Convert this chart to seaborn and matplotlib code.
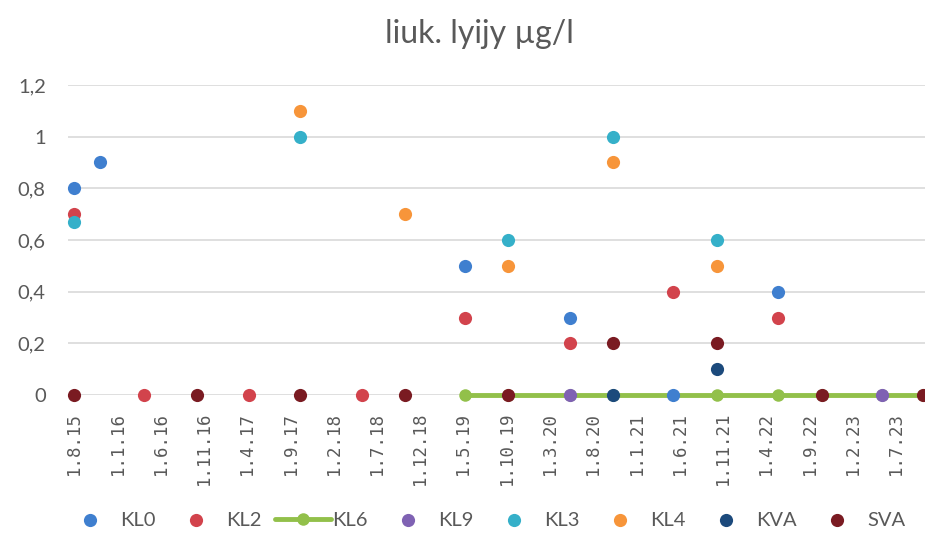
import matplotlib
matplotlib.use("Agg")
import matplotlib.pyplot as plt
from matplotlib.legend_handler import HandlerLine2D
import seaborn as sns
import pandas as pd

# sample dates / values per monitoring point
KL0_DATES = ["2015-08-01", "2015-11-01", "2019-05-09", "2020-05-12", "2021-05-08", "2022-05-12"]
KL0_VALS = [0.8, 0.9, 0.5, 0.3, 0.0, 0.4]

KL2_DATES = ["2015-08-01", "2016-04-03", "2017-04-07", "2018-05-09", "2019-05-09",
             "2020-05-12", "2021-05-08", "2022-05-12"]
KL2_VALS = [0.7, 0.0, 0.0, 0.0, 0.3, 0.2, 0.4, 0.3]

KL6_DATES = ["2019-05-09", "2019-10-07", "2020-05-12", "2020-10-10", "2021-10-09",
             "2022-05-12", "2022-10-14", "2023-05-13", "2023-10-04"]
KL6_VALS = [0, 0, 0, 0, 0, 0, 0, 0, 0]

KL9_DATES = ["2020-05-12", "2023-05-13"]
KL9_VALS = [0.0, 0.0]

KL3_DATES = ["2015-08-01", "2017-10-03", "2019-10-07", "2020-10-10", "2021-10-09"]
KL3_VALS = [0.67, 1.0, 0.6, 1.0, 0.6]

KL4_DATES = ["2017-10-03", "2018-10-08", "2019-10-07", "2020-10-10", "2021-10-09"]
KL4_VALS = [1.1, 0.7, 0.5, 0.9, 0.5]

KVA_DATES = ["2020-10-10", "2021-10-09"]
KVA_VALS = [0.0, 0.1]

SVA_DATES = ["2015-08-01", "2016-10-06", "2017-10-03", "2018-10-08", "2019-10-07",
             "2020-10-10", "2021-10-09", "2022-10-14", "2023-10-04"]
SVA_VALS = [0, 0, 0, 0, 0, 0.2, 0.2, 0, 0]

TICK_LABELS = ["1.8.15", "1.1.16", "1.6.16", "1.11.16", "1.4.17", "1.9.17", "1.2.18",
               "1.7.18", "1.12.18", "1.5.19", "1.10.19", "1.3.20", "1.8.20", "1.1.21",
               "1.6.21", "1.11.21", "1.4.22", "1.9.22", "1.2.23", "1.7.23"]
Y_TICKS = [0, 0.2, 0.4, 0.6, 0.8, 1.0, 1.2]

COLORS = {"KL0": "#3f7fcf", "KL2": "#d2434c", "KL6": "#92c04a", "KL9": "#7f62b3",
          "KL3": "#35b0c9", "KL4": "#f7953a", "KVA": "#1c4a7c", "SVA": "#7a1b22"}

series = {"KL0": (KL0_DATES, KL0_VALS), "KL2": (KL2_DATES, KL2_VALS),
          "KL6": (KL6_DATES, KL6_VALS), "KL9": (KL9_DATES, KL9_VALS),
          "KL3": (KL3_DATES, KL3_VALS), "KL4": (KL4_DATES, KL4_VALS),
          "KVA": (KVA_DATES, KVA_VALS), "SVA": (SVA_DATES, SVA_VALS)}


class WideLine(HandlerLine2D):
    # Excel draws the line-series legend key longer than the marker-only ones
    def create_artists(self, legend, orig_handle, xdescent, ydescent, width, height,
                       fontsize, trans):
        left, right = 0.6 * fontsize, 0.7 * fontsize
        return super().create_artists(legend, orig_handle, xdescent + left, ydescent,
                                      width + left + right, height, fontsize, trans)


sns.set_theme(style="whitegrid")
plt.rcParams["font.family"] = ["Lato", "DejaVu Sans"]
GREY = "#595959"

fig = plt.figure(figsize=(9.25, 5.35), dpi=100)
ax = fig.add_axes([68 / 925, 1 - 395 / 535, 857 / 925, 310 / 535])

for i, (name, (dates, vals)) in enumerate(series.items()):
    df = pd.DataFrame({"date": pd.to_datetime(dates), "value": vals})
    if name == "KL6":
        sns.lineplot(data=df, x="date", y="value", ax=ax, color=COLORS[name], lw=3.5,
                     marker="o", markersize=9, markeredgewidth=0, label=name,
                     zorder=2, clip_on=False)
    else:
        sns.scatterplot(data=df, x="date", y="value", ax=ax, color=COLORS[name], s=90,
                        linewidth=0, label=name, zorder=3 + i, clip_on=False)

ticks = [pd.to_datetime(t, format="%d.%m.%y") for t in TICK_LABELS]
ax.set_xticks(ticks)
ax.set_xticklabels(TICK_LABELS, rotation=90, fontsize=12.5, color=GREY,
                   family="DejaVu Sans Mono")
ax.set_xlim(pd.Timestamp("2015-07-11"), pd.Timestamp("2023-10-12"))
ax.set_ylim(0, 1.2)
ax.set_yticks(Y_TICKS)
ax.set_yticklabels([f"{v:g}".replace(".", ",") for v in Y_TICKS], fontsize=14.5, color=GREY)
ax.set_xlabel("")
ax.set_ylabel("")
ax.grid(axis="x", visible=False)
ax.grid(axis="y", color="#d9d9d9", lw=1.2)
ax.tick_params(axis="x", length=0, pad=12)
ax.tick_params(axis="y", length=0, pad=16)
for s in ax.spines.values():
    s.set_visible(False)

fig.text(479 / 925, 1 - 34 / 535, "liuk. lyijy µg/l", ha="center", va="center",
         fontsize=23, color=GREY)

handles, labels = ax.get_legend_handles_labels()
ax.get_legend().remove()
fig.legend(handles, labels, loc="center", bbox_to_anchor=(490 / 925, 1 - 520 / 535),
           ncol=8, frameon=False, fontsize=14.5, handlelength=1.5, handletextpad=0.75,
           columnspacing=1.25, labelcolor=GREY, borderpad=0, borderaxespad=0,
           handler_map={handles[2]: WideLine()})

fig.savefig("out.png", dpi=100)
